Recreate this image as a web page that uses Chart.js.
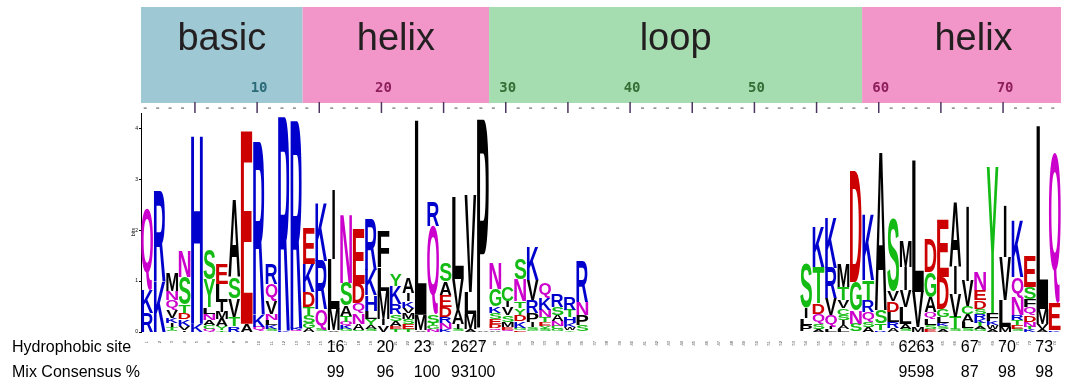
<!DOCTYPE html>
<html>
<head>
<meta charset="utf-8">
<title>bHLH sequence logo</title>
<script src="https://cdn.jsdelivr.net/npm/chart.js@4.4.1/dist/chart.umd.min.js"></script>
<style>
  body { margin: 0; background: white; }
  canvas { display: block; }
</style>
</head>
<body>
<canvas id="logoChart" width="1067" height="388"></canvas>
<script>
// each column lists [residue, bits] from bottom to top of the stack
const basicCols = [
  [['R',0.38],['K',0.45],['Q',1.6]],
  [['K',1.0],['R',1.78]],
  [['S',0.04],['T',0.06],['I',0.08],['K',0.1],['V',0.15],['Q',0.2],['N',0.17],['M',0.36]],
  [['I',0.04],['V',0.08],['K',0.13],['D',0.13],['T',0.16],['S',0.54],['N',0.52]],
  [['K',0.16],['H',3.74]],
  [['Q',0.06],['C',0.08],['A',0.1],['N',0.12],['L',0.13],['Y',0.54],['S',0.6]],
  [['T',0.03],['Y',0.08],['A',0.14],['M',0.14],['I',0.2],['L',0.35],['E',0.4]],
  [['R',0.12],['T',0.18],['V',0.36],['S',0.42],['A',1.53]],
  [['A',0.16],['E',3.79]],
  [['Q',0.1],['K',0.23],['R',3.4]],
  [['S',0.05],['K',0.08],['L',0.1],['N',0.13],['V',0.26],['Q',0.33],['R',0.39]],
  [['K',0.03],['R',4.2]],
  [['Q',0.03],['K',0.04],['R',4.08]]
];
const helix1Cols = [
  [['A',0.08],['G',0.1],['S',0.15],['T',0.16],['D',0.29],['K',0.56],['E',0.71]],
  [['S',0.05],['Q',0.4],['R',0.95],['K',1.15]],
  [['V',0.04],['M',0.42],['L',0.98],['I',1.37]],
  [['G',0.05],['K',0.07],['Q',0.08],['T',0.12],['A',0.2],['S',0.45],['N',1.35]],
  [['S',0.04],['A',0.12],['N',0.2],['Q',0.2],['D',0.39],['E',1.08]],
  [['S',0.06],['A',0.08],['Y',0.12],['L',0.16],['H',0.3],['K',0.5],['R',1.0]],
  [['V',0.13],['I',0.12],['M',0.56],['L',0.45],['F',0.7]],
  [['T',0.06],['E',0.06],['A',0.1],['S',0.13],['R',0.2],['K',0.36],['Y',0.23]],
  [['T',0.05],['E',0.11],['S',0.1],['M',0.12],['V',0.1],['K',0.13],['I',0.16],['A',0.31]],
  [['V',0.04],['M',0.3],['L',3.82]],
  [['N',0.05],['G',0.08],['T',0.05],['S',0.16],['Q',1.75],['R',0.48]],
  [['K',0.05],['N',0.12],['R',0.13],['D',0.2],['E',0.23],['A',0.26],['S',0.35]],
  [['S',0.06],['I',0.1],['A',0.28],['V',0.61],['L',1.6]],
  [['A',0.06],['M',0.3],['L',0.42],['V',1.9]],
  [['A',0.03],['P',4.15]]
];
const loopCols = [
  [['A',0.04],['Q',0.04],['D',0.07],['E',0.1],['S',0.13],['K',0.13],['G',0.33],['N',0.5]],
  [['Q',0.04],['E',0.06],['M',0.1],['S',0.13],['V',0.16],['I',0.12],['C',0.28]],
  [['E',0.03],['G',0.05],['K',0.13],['D',0.13],['Y',0.13],['T',0.13],['N',0.44],['S',0.42]],
  [['G',0.04],['S',0.06],['I',0.1],['P',0.17],['R',0.26],['V',0.39],['K',0.65]],
  [['S',0.05],['Y',0.06],['E',0.08],['T',0.1],['N',0.14],['K',0.23],['Q',0.28]],
  [['G',0.05],['C',0.07],['N',0.1],['A',0.12],['S',0.15],['R',0.24]],
  [['Y',0.04],['W',0.06],['K',0.08],['H',0.12],['T',0.14],['R',0.24]],
  [['S',0.13],['P',0.2],['N',0.26],['R',0.79]],
  [], [], [], [], [], [], [], [], [], [], [], [], [], [], [], [], [],
  [['P',0.14],['L',0.13],['I',0.2],['S',0.87]],
  [['A',0.06],['S',0.1],['Q',0.2],['D',0.2],['T',0.72],['K',0.8]],
  [['L',0.05],['I',0.06],['Q',0.23],['V',0.33],['R',0.59],['K',1.0]],
  [['L',0.06],['A',0.08],['I',0.1],['S',0.1],['C',0.13],['V',0.16],['T',0.26],['M',0.45]],
  [['S',0.16],['N',0.26],['G',0.56],['D',2.19]]
];
const helix2Cols = [
  [['A',0.1],['S',0.1],['Q',0.2],['R',0.23],['T',0.39],['K',1.31]],
  [['R',0.04],['T',0.13],['S',0.26],['A',3.14]],
  [['A',0.08],['R',0.12],['L',0.2],['D',0.2],['V',0.2],['S',1.42]],
  [['S',0.06],['A',0.1],['L',0.33],['V',0.33],['I',0.46],['M',0.52]],
  [['M',0.1],['V',0.69],['L',2.58]],
  [['E',0.06],['S',0.07],['L',0.13],['Q',0.13],['A',0.3],['G',0.49],['D',0.65]],
  [['A',0.05],['S',0.06],['K',0.06],['L',0.13],['G',0.16],['D',0.62],['E',1.14]],
  [['S',0.05],['T',0.25],['V',0.45],['I',0.55],['A',1.28]],
  [['S',0.07],['L',0.13],['A',0.16],['C',0.16],['V',0.49],['I',1.47]],
  [['G',0.05],['A',0.06],['T',0.07],['K',0.08],['R',0.1],['S',0.1],['D',0.16],['E',0.2],['N',0.36]],
  [['A',0.06],['W',0.08],['K',0.08],['F',0.16],['Y',2.86]],
  [['M',0.1],['L',0.52],['V',0.85],['I',1.01]],
  [['S',0.06],['E',0.07],['T',0.1],['R',0.1],['N',0.35],['Q',0.4],['K',1.11]],
  [['K',0.05],['T',0.05],['N',0.1],['D',0.13],['Q',0.16],['F',0.16],['S',0.23],['E',0.59]],
  [['A',0.05],['V',0.1],['M',0.3],['L',3.6]],
  [['K',0.03],['E',0.53],['Q',2.94]]
];

const domainNames = ['basic', 'helix', 'loop', 'helix'];
const domainStarts = [1, 14, 29, 59];
const domainEnds = [13, 28, 58, 74];
const rulerLabels = [10, 20, 30, 40, 50, 60, 70];

const hydroSites = [16, 20, 23, 26, 27, 62, 63, 67, 70, 73];
const mixConsensus = [99, 96, 100, 93, 100, 95, 98, 87, 98, 98];

// styling
const domainFill = ['#9ec8d3', '#f296c9', '#a6ddb0', '#f296c9'];
const domainNumColor = ['#2b6a78', '#8e1f5c', '#356f35', '#8e1f5c'];
const residueColor = {
  K: '#0000cc', R: '#0000cc', H: '#0000cc',
  D: '#cc0000', E: '#cc0000',
  N: '#cc00cc', Q: '#cc00cc',
  S: '#14bb14', T: '#14bb14', G: '#14bb14', Y: '#14bb14', C: '#14bb14'
};

const allCols = basicCols.concat(helix1Cols, loopCols, helix2Cols);
const positions = allCols.map((c, i) => String(i + 1));
const depth = Math.max(...allCols.map(c => c.length));

const datasets = [];
for (let k = 0; k < depth; k++) {
  datasets.push({
    data: allCols.map(c => (c[k] ? c[k][1] : 0)),
    letters: allCols.map(c => (c[k] ? c[k][0] : '')),
    backgroundColor: 'rgba(0,0,0,0)',
    borderWidth: 0,
    categoryPercentage: 1,
    barPercentage: 1
  });
}

const glyphCache = {};
function glyphBox(ctx, ch) {
  if (!glyphCache[ch]) {
    ctx.font = 'bold 100px "Liberation Sans", Arial, sans-serif';
    const m = ctx.measureText(ch);
    glyphCache[ch] = {
      left: -m.actualBoundingBoxLeft,
      top: -m.actualBoundingBoxAscent,
      w: m.actualBoundingBoxLeft + m.actualBoundingBoxRight,
      h: m.actualBoundingBoxAscent + m.actualBoundingBoxDescent
    };
  }
  return glyphCache[ch];
}

// draws each stacked bar as a stretched residue letter
const letterPlugin = {
  id: 'letters',
  afterDatasetsDraw(chart) {
    const ctx = chart.ctx;
    chart.data.datasets.forEach((ds, d) => {
      const meta = chart.getDatasetMeta(d);
      meta.data.forEach((el, i) => {
        const ch = ds.letters[i];
        const h = el.base - el.y;
        if (!ch || h < 0.6) return;
        // the logo's I is a thin stroke, not a full-width block
        const w = ch === 'I' ? Math.max(1.6, el.width * 0.22) : el.width - 0.6;
        const g = glyphBox(ctx, ch);
        ctx.save();
        ctx.font = 'bold 100px "Liberation Sans", Arial, sans-serif';
        ctx.textBaseline = 'alphabetic';
        ctx.textAlign = 'left';
        ctx.fillStyle = residueColor[ch] || '#000';
        ctx.translate(el.x - w / 2, el.y);
        ctx.scale(w / g.w, h / g.h);
        ctx.translate(-g.left, -g.top);
        ctx.fillText(ch, 0, 0);
        ctx.restore();
      });
    });
  }
};

// domain band, ruler, bits label and the two text rows
const decorPlugin = {
  id: 'decor',
  afterDraw(chart) {
    const ctx = chart.ctx;
    const xs = chart.scales.x;
    const half = (xs.getPixelForValue(1) - xs.getPixelForValue(0)) / 2;
    const px = pos => xs.getPixelForValue(pos - 1);
    ctx.save();

    domainNames.forEach((name, i) => {
      const x0 = px(domainStarts[i]) - half;
      const x1 = px(domainEnds[i]) + half;
      ctx.fillStyle = domainFill[i];
      ctx.fillRect(x0, 7, x1 - x0, 96);
      ctx.fillStyle = '#231f20';
      ctx.font = '38px "Liberation Sans", Arial, sans-serif';
      ctx.textAlign = 'center';
      ctx.textBaseline = 'alphabetic';
      const shift = i === 3 ? 12 : 0;
      ctx.fillText(name, (x0 + x1) / 2 + shift, 50);
    });

    rulerLabels.forEach(n => {
      const di = domainStarts.findIndex((s, j) => n >= s && n <= domainEnds[j]);
      ctx.fillStyle = domainNumColor[di];
      ctx.font = 'bold 14px "DejaVu Sans Mono", monospace';
      ctx.textAlign = 'center';
      ctx.textBaseline = 'middle';
      ctx.fillText(String(n), px(n), 88);
    });

    for (let p = 1; p <= positions.length; p++) {
      const x = px(p) - 2;
      if (p % 5 === 0) {
        ctx.strokeStyle = '#4e3560';
        ctx.lineWidth = 1.5;
        ctx.beginPath();
        ctx.moveTo(x, 102);
        ctx.lineTo(x, 113);
        ctx.stroke();
      } else {
        ctx.fillStyle = '#6a6a6a';
        ctx.fillRect(x - 1.5, 107.5, 3, 1.2);
      }
    }

    ctx.save();
    ctx.translate(134, 232);
    ctx.rotate(-Math.PI / 2);
    ctx.font = '5px "Liberation Sans", Arial, sans-serif';
    ctx.fillStyle = '#000';
    ctx.textAlign = 'center';
    ctx.fillText('bits', 0, 0);
    ctx.restore();

    ctx.fillStyle = '#000';
    ctx.font = '16px "Liberation Sans", Arial, sans-serif';
    ctx.textAlign = 'left';
    ctx.textBaseline = 'middle';
    ctx.fillText('Hydrophobic site', 12, 348);
    ctx.fillText('Mix Consensus %', 12, 373);

    // consecutive sites are printed as one run, as in the source figure
    let i = 0;
    while (i < hydroSites.length) {
      let j = i;
      while (j + 1 < hydroSites.length && hydroSites[j + 1] === hydroSites[j] + 1) j++;
      const x = px(hydroSites[i]) - 7;
      ctx.fillText(hydroSites.slice(i, j + 1).join(''), x, 348);
      ctx.fillText(mixConsensus.slice(i, j + 1).join(''), x, 373);
      i = j + 1;
    }
    ctx.restore();
  }
};

new Chart(document.getElementById('logoChart'), {
  type: 'bar',
  data: { labels: positions, datasets: datasets },
  options: {
    responsive: false,
    animation: false,
    layout: { padding: { top: 113, right: 6, left: 0, bottom: 0 } },
    plugins: { legend: { display: false }, tooltip: { enabled: false } },
    scales: {
      x: {
        stacked: true,
        afterFit(s) { s.height = 56; },
        grid: { display: false },
        border: { display: false },
        ticks: { font: { size: 4 }, color: '#444', minRotation: 90, maxRotation: 90, autoSkip: false, padding: 1 }
      },
      y: {
        stacked: true,
        min: 0,
        max: 4.3,
        afterFit(s) { s.width = 141; },
        grid: { drawOnChartArea: false, tickLength: 2, color: '#000' },
        border: { color: '#000' },
        ticks: {
          stepSize: 1,
          includeBounds: false,
          font: { size: 5 },
          color: '#000',
          padding: 1,
          callback: v => (Number.isInteger(v) ? v : '')
        }
      }
    }
  },
  plugins: [letterPlugin, decorPlugin]
});
</script>
</body>
</html>
